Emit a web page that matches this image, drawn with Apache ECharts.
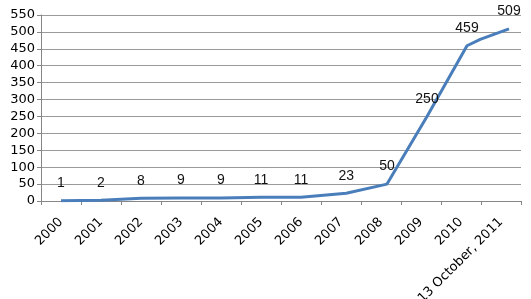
<!DOCTYPE html>
<html><head><meta charset="utf-8">
<script src="https://cdn.jsdelivr.net/npm/echarts@6/dist/echarts.min.js"></script>
<style>html,body{margin:0;padding:0;background:#fff}#c{width:531px;height:299px}</style>
</head><body><div id="c"></div>
<script>
var categories = ['2000','2001','2002','2003','2004','2005','2006','2007','2008','2009','2010','13 October, 2011'];
var yTicks = [0,50,100,150,200,250,300,350,400,450,500,550];
// position of each point along the category band (in category units), value, and whether it is labelled
var pointPos = [0.5, 1.5, 2.5, 3.5, 4.5, 5.5, 6.5, 7.63, 8.65, 9.65, 10.65, 10.98, 11.7];
var counts   = [1,   2,   8,   9,   9,   11,  11,  23,   50,   250,  459,   478,   509];
var labelled = [1,   1,   1,   1,   1,   1,   1,   1,    1,    1,    1,     0,     1];

var data = pointPos.map(function(p, i){
  return {value: [p, counts[i]], label: {show: !!labelled[i]}};
});

var chart = echarts.init(document.getElementById('c'));
chart.setOption({
  animation: false,
  grid: {left: 41, right: 10, top: 15, bottom: 98, containLabel: false, outerBoundsMode: 'none'},
  xAxis: [{
    type: 'category', data: categories, boundaryGap: true,
    axisLine: {lineStyle: {color: '#868686', width: 1}},
    axisTick: {show: true, length: 4, lineStyle: {color: '#868686'}},
    axisLabel: {rotate: 45, fontFamily: 'DejaVu Sans', fontSize: 13, color: '#000', margin: 19, interval: 0},
    splitLine: {show: false}
  },{
    type: 'value', min: 0, max: 12, show: false
  }],
  yAxis: {
    type: 'value', min: yTicks[0], max: yTicks[yTicks.length-1], interval: 50,
    axisLine: {show: true, lineStyle: {color: '#868686'}},
    axisTick: {show: true, length: 4, lineStyle: {color: '#868686'}},
    axisLabel: {fontFamily: 'DejaVu Sans', fontSize: 13, color: '#000', margin: 6},
    splitLine: {lineStyle: {color: '#9a9a9a', width: 1}}
  },
  series: [{
    type: 'line', xAxisIndex: 1, data: data,
    showSymbol: true, symbol: 'circle', symbolSize: 1,
    itemStyle: {color: 'rgba(74,126,187,0)'},
    lineStyle: {color: '#4a7ebb', width: 3},
    label: {position: 'top', distance: 10, fontFamily: 'Liberation Sans', fontSize: 14, color: '#111',
      formatter: function(p){ return p.value[1]; }},
    labelLayout: {hideOverlap: false}
  }]
});
</script></body></html>
